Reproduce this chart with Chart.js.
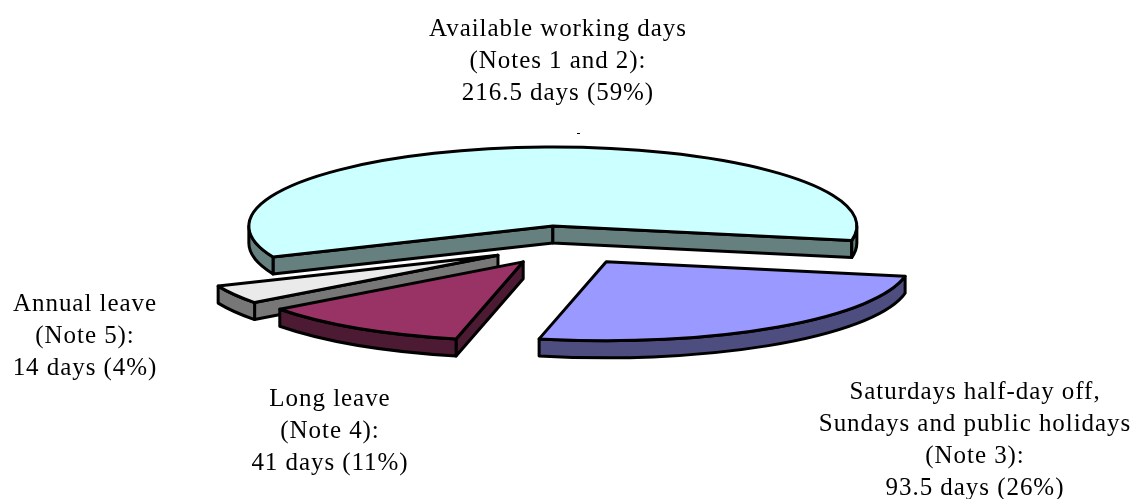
<!DOCTYPE html>
<html>
<head>
<meta charset="utf-8">
<title>Working days in a year</title>
<script src="https://cdn.jsdelivr.net/npm/chart.js@4/dist/chart.umd.min.js"></script>
<style>
    html, body { margin: 0; padding: 0; background: #fff; }
    #wrap { position: relative; width: 1132px; height: 499px; }
</style>
</head>
<body>
<div id="wrap"><canvas id="daysChart"></canvas></div>
<script>
// days per year for each category
const categories = ['Available working days', 'Saturdays half-day off, Sundays and public holidays', 'Long leave', 'Annual leave'];
const days = [216.5, 93.5, 41, 14];
const topColors = ['#CCFFFF', '#9999FF', '#993366', '#EAEAEA'];
const wallColors = ['#668080', '#4D4D80', '#4D1A33', '#777777'];
const labelLines = [
    ['Available working days', '(Notes 1 and 2):', '216.5 days (59%)'],
    ['Saturdays half-day off,', 'Sundays and public holidays', '(Note 3):', '93.5 days (26%)'],
    ['Long leave', '(Note 4):', '41 days (11%)'],
    ['Annual leave', '(Note 5):', '14 days (4%)']
];
const labelPos = [[558, 36], [975, 399], [330, 406], [85, 311]];
const sliceShiftX = [-4, 0, -1, -2];

const TILT = 0.26;      // vertical squash of the pie
const DEPTH = 17;       // thickness of the slices
const LINE_H = 32;

// one slice as a tilted prism, painted from the arc element's own geometry
function drawSlice(ctx, arc, i) {
    const { x, y, startAngle, endAngle, outerRadius } = arc.getProps(['x', 'y', 'startAngle', 'endAngle', 'outerRadius'], true);
    const o = arc.options;
    const mid = (startAngle + endAngle) / 2;
    const cx = x + Math.cos(mid) * o.offset + sliceShiftX[i];
    const cy = y + Math.sin(mid) * o.offset * TILT;
    const r = outerRadius;
    const px = a => cx + Math.cos(a) * r;
    const py = a => cy + Math.sin(a) * r * TILT;

    ctx.lineJoin = 'round';
    ctx.lineWidth = o.borderWidth;
    ctx.strokeStyle = o.borderColor;
    ctx.fillStyle = wallColors[i];

    const paint = () => { ctx.closePath(); ctx.fill(); ctx.stroke(); };

    // cut faces, only those turned towards the viewer
    if (Math.cos(startAngle) < 0) {
        ctx.beginPath();
        ctx.moveTo(cx, cy);
        ctx.lineTo(px(startAngle), py(startAngle));
        ctx.lineTo(px(startAngle), py(startAngle) + DEPTH);
        ctx.lineTo(cx, cy + DEPTH);
        paint();
    }
    if (Math.cos(endAngle) > 0) {
        ctx.beginPath();
        ctx.moveTo(cx, cy);
        ctx.lineTo(px(endAngle), py(endAngle));
        ctx.lineTo(px(endAngle), py(endAngle) + DEPTH);
        ctx.lineTo(cx, cy + DEPTH);
        paint();
    }

    // rim: the part of the outer edge on the near side of the ellipse
    const spans = [];
    for (let k = 0; k <= 2; k += 2) {
        const a0 = Math.max(startAngle, k * Math.PI);
        const a1 = Math.min(endAngle, (k + 1) * Math.PI);
        if (a1 > a0) spans.push([a0, a1]);
    }
    spans.forEach(([a0, a1]) => {
        ctx.beginPath();
        ctx.ellipse(cx, cy, r, r * TILT, 0, a0, a1);
        ctx.ellipse(cx, cy + DEPTH, r, r * TILT, 0, a1, a0, true);
        paint();
    });

    // top surface
    ctx.fillStyle = o.backgroundColor;
    ctx.beginPath();
    ctx.moveTo(cx, cy);
    ctx.ellipse(cx, cy, r, r * TILT, 0, startAngle, endAngle);
    paint();
}

const tiltedPie = {
    id: 'tiltedPie',
    beforeDatasetDraw(chart, args) {
        const ctx = chart.ctx;
        const arcs = args.meta.data;
        ctx.save();
        // back to front
        [0, 3, 2, 1].forEach(i => drawSlice(ctx, arcs[i], i));
        ctx.restore();
        return false;
    }
};

const sliceLabels = {
    id: 'sliceLabels',
    afterDraw(chart) {
        const ctx = chart.ctx;
        ctx.save();
        ctx.font = '25px "Liberation Serif"';
        ctx.letterSpacing = '0.95px';
        ctx.fillStyle = '#000';
        ctx.textAlign = 'center';
        ctx.textBaseline = 'alphabetic';
        labelLines.forEach((lines, i) => {
            lines.forEach((line, j) => {
                ctx.fillText(line, labelPos[i][0], labelPos[i][1] + j * LINE_H);
            });
        });
        // small leader mark above the main slice
        ctx.fillRect(577, 133, 3, 1);
        ctx.restore();
    }
};

new Chart(document.getElementById('daysChart').getContext('2d'), {
    type: 'pie',
    data: {
        labels: categories,
        datasets: [{
            data: days,
            backgroundColor: topColors,
            borderColor: '#000',
            borderWidth: 3,
            offset: 75
        }]
    },
    options: {
        responsive: true,
        maintainAspectRatio: false,
        animation: false,
        rotation: 247,
        radius: 304,
        layout: { padding: { right: 2, bottom: 8 } },
        plugins: {
            legend: { display: false },
            tooltip: { enabled: false }
        }
    },
    plugins: [tiltedPie, sliceLabels]
});
</script>
</body>
</html>
